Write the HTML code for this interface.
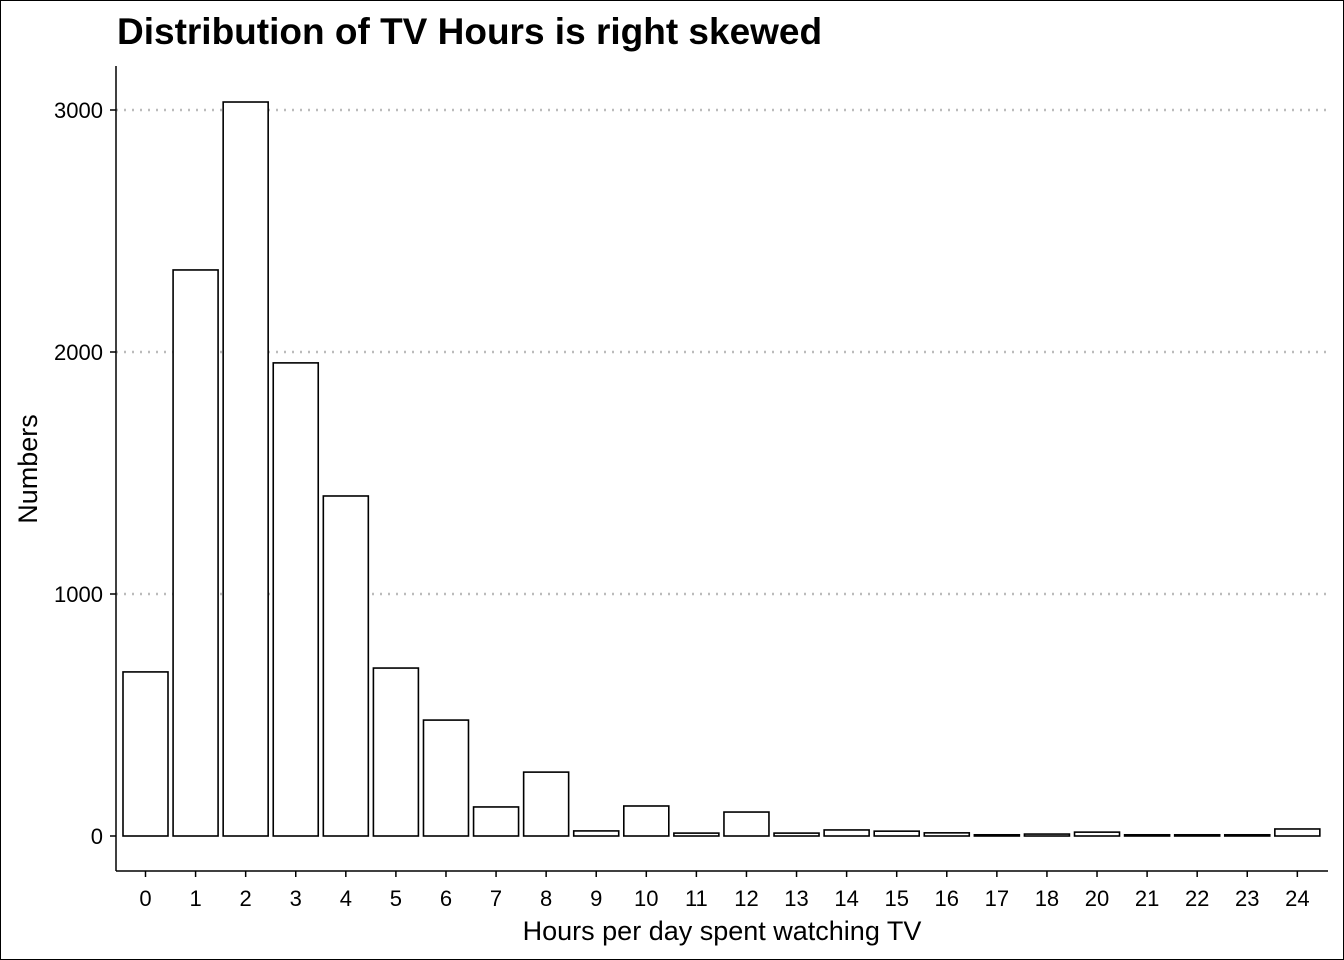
<!DOCTYPE html>
<html><head><meta charset="utf-8"><style>
body{margin:0;background:#fff}
svg{display:block;font-family:"Liberation Sans",Arial,sans-serif}
</style></head><body>
<svg id="chart" width="1344" height="960" viewBox="0 0 1344 960">
<rect x="0.5" y="0.5" width="1343" height="959" fill="#fff" stroke="#000"/>
<text x="117" y="44" font-size="37" font-weight="bold">Distribution of TV Hours is right skewed</text>
<g id="grid"></g><g id="bars"></g><g id="axes"></g>
<text x="722" y="940" font-size="27" text-anchor="middle">Hours per day spent watching TV</text>
<text transform="translate(37,469) rotate(-90)" font-size="27" text-anchor="middle">Numbers</text>
</svg>
<script>
const categories=["0","1","2","3","4","5","6","7","8","9","10","11","12","13","14","15","16","17","18","20","21","22","23","24"];
const counts=[678,2339,3033,1955,1405,694,479,120,264,21,124,12,99,12,25,20,13,5,8,16,5,5,5,29];
const yTicks=[0,1000,2000,3000];
const NS="http://www.w3.org/2000/svg";
const y0=836,pxPer=0.242,x0=145.5,step=50.08,bw=45,left=116,bottom=871,right=1328;
const ys=v=>y0-v*pxPer, xs=i=>x0+i*step;
function mk(t,a,p){const e=document.createElementNS(NS,t);for(const k in a)e.setAttribute(k,a[k]);p.appendChild(e);return e;}
const grid=document.getElementById('grid'),bars=document.getElementById('bars'),axes=document.getElementById('axes');
yTicks.forEach(t=>{
 if(t>0){const g=mk('line',{x1:left,x2:right,y1:ys(t),y2:ys(t),stroke:'#bbb','stroke-width':2.5,'stroke-dasharray':'2 6'},grid);
 
 }
 const tk=mk('line',{x1:left-6,x2:left,y1:ys(t),y2:ys(t),stroke:'#000','stroke-width':1.5},axes);
 
 
 const lb=mk('text',{x:left-13,y:ys(t)+8,'font-size':22,'text-anchor':'end'},axes);lb.textContent=t;
 
 
});
categories.forEach((c,i)=>{
 const v=counts[i];
 const r=mk('rect',{x:xs(i)-bw/2,y:ys(v),width:bw,height:v*pxPer,fill:'#fff',stroke:'#000','stroke-width':1.6},bars);
 
 
 const tk=mk('line',{x1:xs(i),x2:xs(i),y1:bottom,y2:bottom+6,stroke:'#000','stroke-width':1.5},axes);
 
 
 const lb=mk('text',{x:xs(i),y:bottom+35,'font-size':22,'text-anchor':'middle'},axes);lb.textContent=c;
 
 
});
const ya=mk('line',{x1:left,x2:left,y1:66,y2:bottom,stroke:'#000','stroke-width':1.5},axes);


const xa=mk('line',{x1:left,x2:right,y1:bottom,y2:bottom,stroke:'#000','stroke-width':1.5},axes);


</script>
</body></html>
